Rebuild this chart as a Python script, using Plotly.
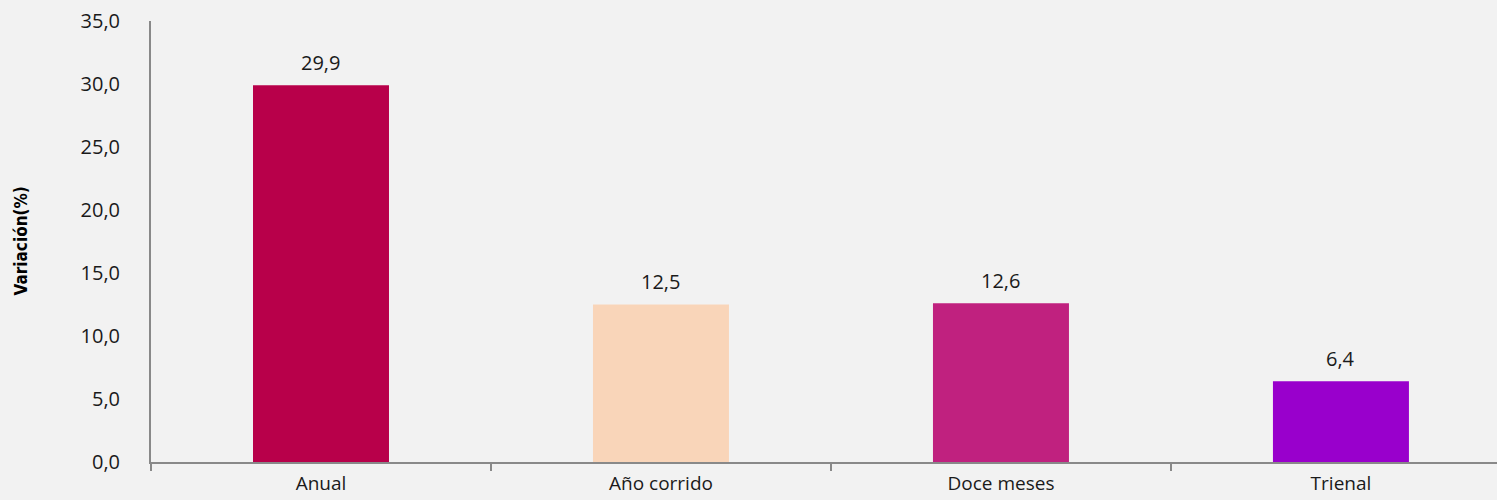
import plotly.graph_objects as go

categories = ["Anual", "Año corrido", "Doce meses", "Trienal"]
values = [29.9, 12.5, 12.6, 6.4]
colors = ["#B8004A", "#F9D5B9", "#C0217F", "#9900CC"]
ytickvals = [0, 5, 10, 15, 20, 25, 30, 35]
yticktext = ["0,0", "5,0", "10,0", "15,0", "20,0", "25,0", "30,0", "35,0"]

FONT = "Open Sans"

fig = go.Figure(go.Bar(
    x=categories, y=values,
    marker=dict(color=colors, line=dict(width=0)),
    width=0.4,
))

for c, v in zip(categories, values):
    fig.add_annotation(
        x=c, y=v, text=f"{v:.1f}".replace(".", ","),
        showarrow=False, yanchor="middle", yshift=23,
        font=dict(family=FONT, size=20, color="#1a1a1a"),
    )

fig.add_annotation(
    xref="paper", yref="paper", x=0, y=0.5, xshift=-131,
    text="<b>Variación(%)</b>", textangle=-90, showarrow=False,
    xanchor="center", yanchor="middle",
    font=dict(family="Liberation Sans Narrow, Arial Narrow, DejaVu Sans Condensed", size=17, color="#000000"),
)

fig.update_layout(
    width=1497, height=500,
    margin=dict(l=151, r=0, t=21, b=38, autoexpand=False),
    paper_bgcolor="#F2F2F2", plot_bgcolor="#F2F2F2",
    showlegend=False,
    font=dict(family=FONT, size=20, color="#1a1a1a"),
)
fig.update_xaxes(
    range=[-0.5, 3.459], automargin=False,
    showline=True, linecolor="#898989", linewidth=2,
    ticks="outside", tickson="boundaries", ticklen=7, tickcolor="#898989", tickwidth=2,
    ticklabelstandoff=3,
    tickfont=dict(family=FONT, size=19, color="#1a1a1a"),
    showgrid=False, zeroline=False,
)
fig.update_yaxes(
    range=[0, 35], automargin=False,
    tickvals=ytickvals, ticktext=yticktext,
    showline=True, linecolor="#898989", linewidth=2,
    ticks="", ticklabelstandoff=25,
    tickfont=dict(family=FONT, size=20, color="#1a1a1a"),
    showgrid=False, zeroline=False,
)

fig.write_html("out.html", config={"displayModeBar": False},
               post_script="document.body.style.margin='0';document.body.style.background='#F2F2F2';")
